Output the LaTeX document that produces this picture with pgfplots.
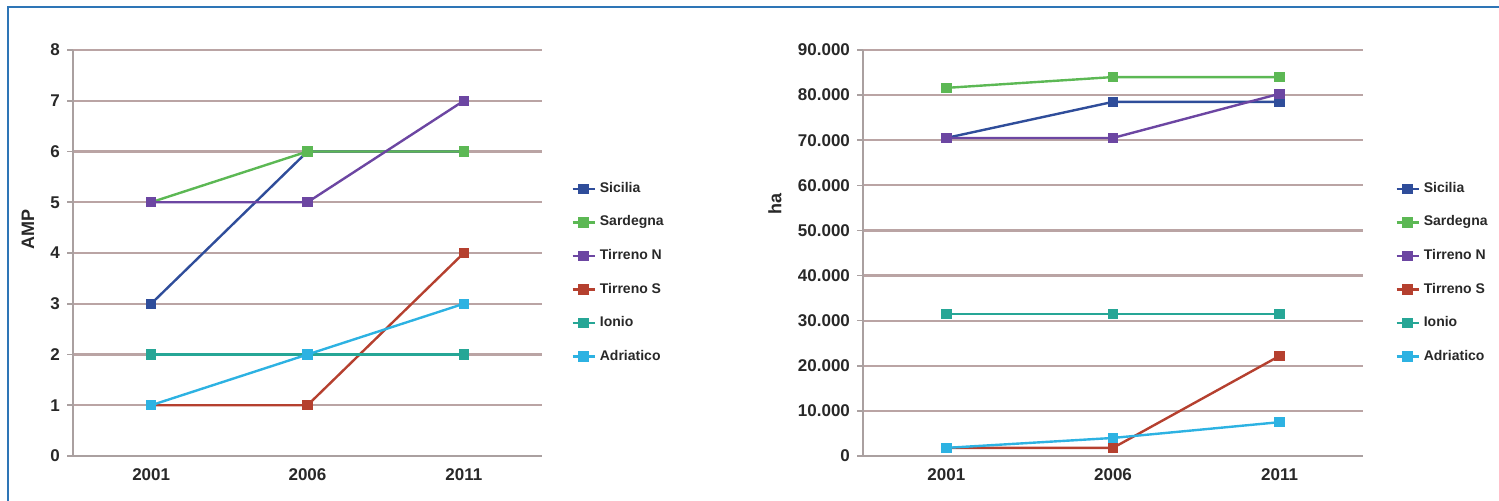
\documentclass[border=0pt]{standalone}
\usepackage{fontspec}
\setmainfont{Liberation Sans}
\usepackage{pgfplots}
\pgfplotsset{compat=1.18}

\definecolor{cSicilia}{RGB}{47,77,154}
\definecolor{cSardegna}{RGB}{92,184,84}
\definecolor{cTirrenoN}{RGB}{108,70,162}
\definecolor{cTirrenoS}{RGB}{181,64,47}
\definecolor{cIonio}{RGB}{38,166,150}
\definecolor{cAdriatico}{RGB}{45,178,226}
\definecolor{gridc}{RGB}{186,164,164}
\definecolor{axisc}{RGB}{170,160,160}
\definecolor{txt}{RGB}{40,40,40}
\definecolor{frame}{RGB}{46,117,182}

\pgfplotsset{
  regioni/.style={
    scale only axis,
    height=203pt,
    xmin=-0.5, xmax=2.5,
    xtick={0,1,2},
    xticklabels={2001,2006,2011},
    axis x line*=bottom,
    axis y line*=left,
    axis line style={axisc, line width=0.8pt},
    x axis line style={-},
    y axis line style={-},
    ymajorgrids,
    major grid style={gridc, line width=1.1pt},
    tick style={axisc, line width=0.8pt},
    major tick length=3pt,
    xtick style={draw=none},
    tick align=outside,
    ticklabel style={font=\fontsize{8.5}{9}\selectfont\bfseries, text=txt},
    /pgf/number format/assume math mode=true,
    ylabel style={font=\fontsize{9}{10}\selectfont\bfseries, text=txt},
    clip=false,
    legend cell align=left,
    legend style={draw=none, fill=none, anchor=north west,
      font=\fontsize{7}{8}\selectfont\bfseries, text=txt,
      row sep=6.2pt, inner sep=0pt},
    legend image code/.code={%
      \draw[mark repeat=2,mark phase=2] plot coordinates {(0pt,0pt)(5.5pt,0pt)(11pt,0pt)};},
    every axis plot/.append style={line width=1.2pt, mark=square*, mark size=2pt},
  }
}

\pgfplotstableread{
x Sicilia Sardegna TirrenoN TirrenoS Ionio Adriatico
0 3 5 5 1 2 1
1 6 6 5 1 2 2
2 6 6 7 4 2 3
}\amp

\pgfplotstableread{
x Sicilia Sardegna TirrenoN TirrenoS Ionio Adriatico
0 70500 81600 70500 1800 31500 1800
1 78500 84000 70500 1800 31500 4000
2 78500 84000 80300 22200 31500 7500
}\ettari

\begin{document}
\begin{tikzpicture}
% frame lines along the top and left edges
\draw[frame, line width=1pt] (3.75pt,0pt) -- (3.75pt,246.75pt) -- (760pt,246.75pt);

% number of marine protected areas
\begin{axis}[regioni,
  at={(36.5pt,22.5pt)}, anchor=south west,
  width=234.5pt,
  ymin=0, ymax=8, ytick={0,...,8},
  ylabel={AMP},
  ylabel style={at={(axis description cs:-0.096,0.557)}, anchor=center},
  legend style={at={(axis description cs:1.062,0.685)}},
]
\addplot[cSicilia, mark options={fill=cSicilia}] table[x=x,y=Sicilia] {\amp};
\addplot[cSardegna, mark options={fill=cSardegna}] table[x=x,y=Sardegna] {\amp};
\addplot[cTirrenoN, mark options={fill=cTirrenoN}] table[x=x,y=TirrenoN] {\amp};
\addplot[cTirrenoS, mark options={fill=cTirrenoS}] table[x=x,y=TirrenoS] {\amp};
\addplot[cIonio, mark options={fill=cIonio}] table[x=x,y=Ionio] {\amp};
\addplot[cAdriatico, mark options={fill=cAdriatico}] table[x=x,y=Adriatico] {\amp};
\legend{Sicilia,Sardegna,Tirreno N,Tirreno S,Ionio,Adriatico}
\end{axis}

% protected surface in hectares
\begin{axis}[regioni,
  at={(431.5pt,22.5pt)}, anchor=south west,
  width=250pt,
  ymin=0, ymax=90000, ytick={0,10000,...,90000},
  scaled y ticks=false,
  yticklabel style={/pgf/number format/.cd, fixed, 1000 sep={.}},
  ylabel={ha},
  ylabel style={at={(axis description cs:-0.176,0.62)}, anchor=center},
  legend style={at={(axis description cs:1.064,0.685)}},
]
\addplot[cSicilia, mark options={fill=cSicilia}] table[x=x,y=Sicilia] {\ettari};
\addplot[cSardegna, mark options={fill=cSardegna}] table[x=x,y=Sardegna] {\ettari};
\addplot[cTirrenoN, mark options={fill=cTirrenoN}] table[x=x,y=TirrenoN] {\ettari};
\addplot[cTirrenoS, mark options={fill=cTirrenoS}] table[x=x,y=TirrenoS] {\ettari};
\addplot[cIonio, mark options={fill=cIonio}] table[x=x,y=Ionio] {\ettari};
\addplot[cAdriatico, mark options={fill=cAdriatico}] table[x=x,y=Adriatico] {\ettari};
\legend{Sicilia,Sardegna,Tirreno N,Tirreno S,Ionio,Adriatico}
\end{axis}

\pgfresetboundingbox
\useasboundingbox (0pt,0pt) rectangle (749.5pt,250.5pt);
\end{tikzpicture}
\end{document}
